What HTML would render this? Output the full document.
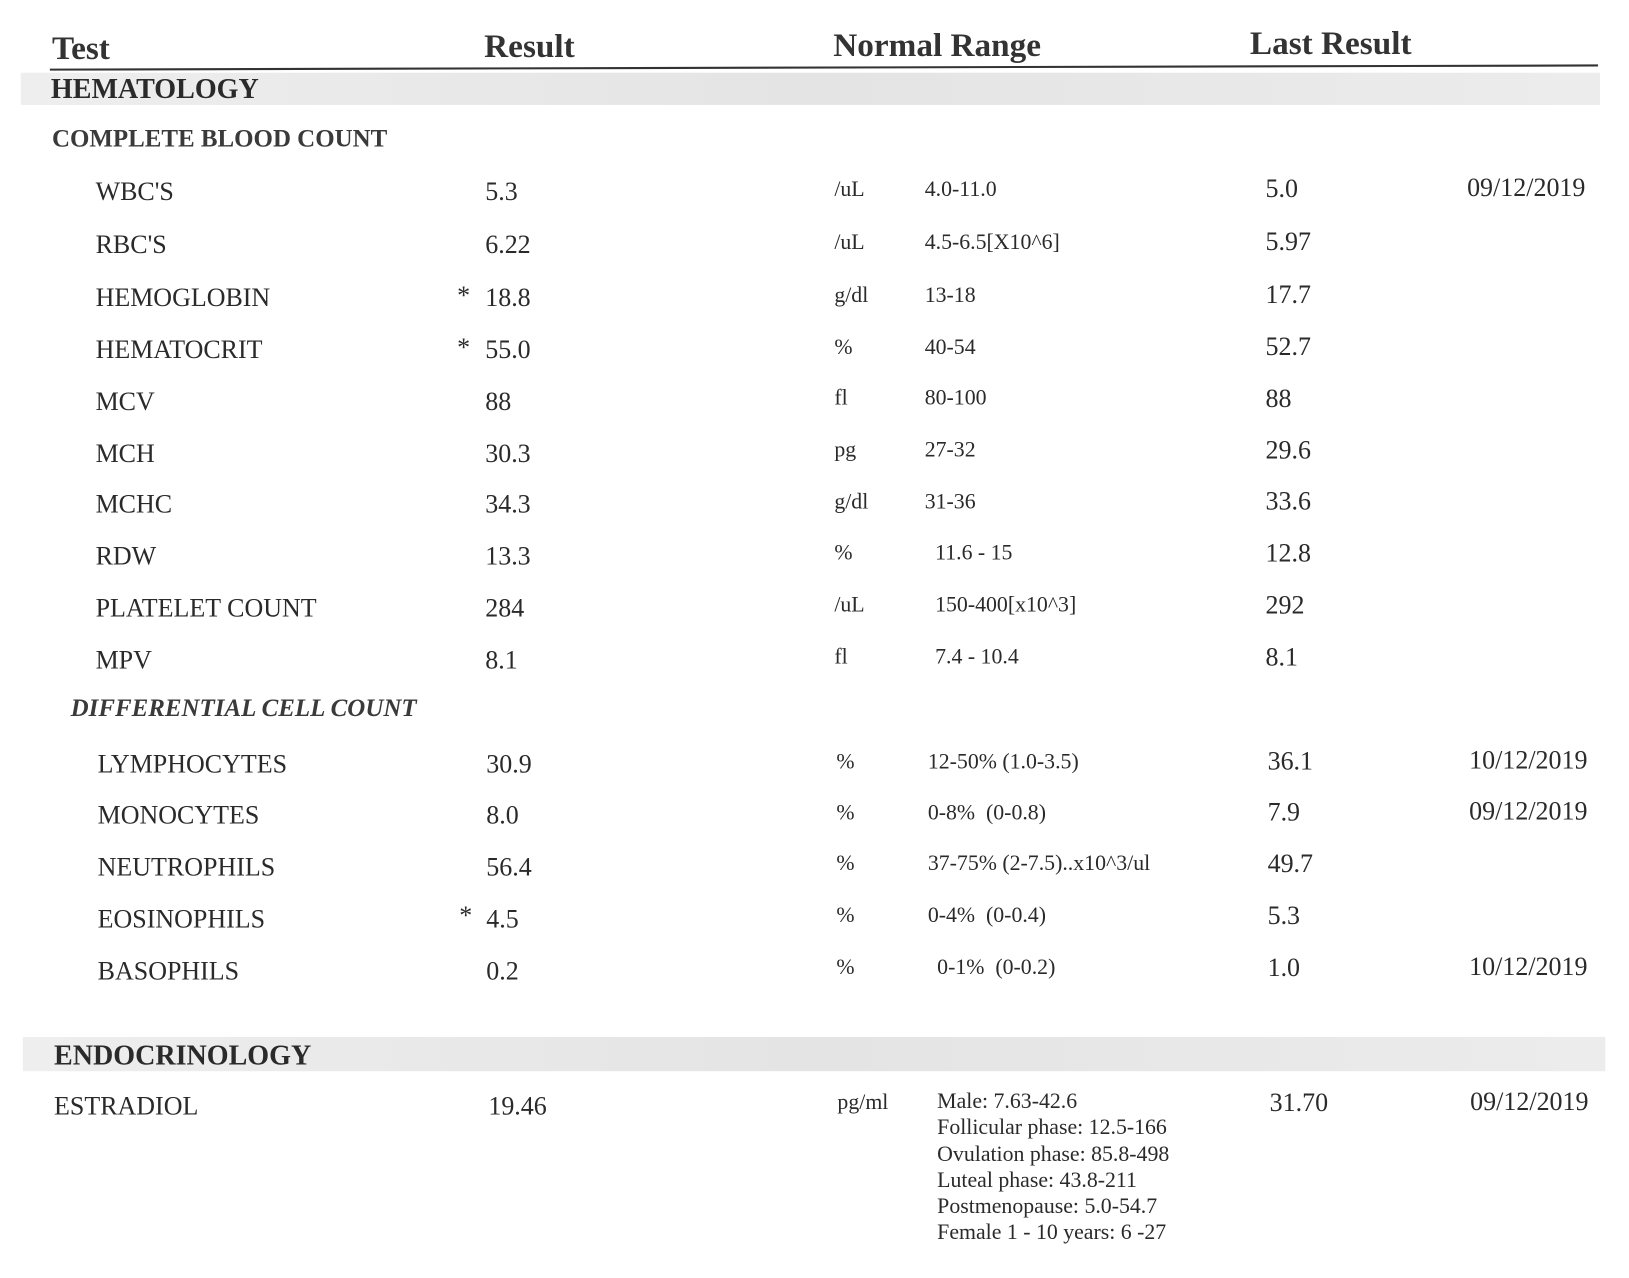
<!DOCTYPE html>
<html><head><meta charset="utf-8"><style>
html,body{margin:0;padding:0;background:#fff;width:1629px;height:1278px;overflow:hidden}
#c{position:absolute;left:0;top:0;width:1568px;height:1230px;transform:scale(1.039);transform-origin:0 0;font-family:"Liberation Serif",serif;color:#2a2a2a}
.t{position:absolute;white-space:nowrap;line-height:1;transform:translateY(-50%);transform-origin:0 50%}
.h{font-size:32px;font-weight:bold;color:#333}
.r{font-size:25px}
.s{font-size:21px}
.band{position:absolute;background:linear-gradient(90deg,#eee,#e4e4e4 50%,#ececec)}
</style></head><body><div id="c">
<div class="t h" style="left:50px;top:46px">Test</div>
<div class="t h" style="left:466px;top:44px">Result</div>
<div class="t h" style="left:802px;top:43px">Normal Range</div>
<div class="t h" style="left:1203px;top:41px">Last Result</div>
<svg style="position:absolute;left:0;top:0" width="1560" height="80"><line x1="48" y1="67" x2="1538" y2="63" stroke="#333" stroke-width="2"/></svg>
<div class="band" style="left:20px;top:70px;width:1520px;height:31px"></div>
<div class="t" style="left:49px;top:86px;font-size:27px;font-weight:bold">HEMATOLOGY</div>
<div class="t" style="left:50px;top:134px;font-size:24px;font-weight:bold;color:#3a3a3a">COMPLETE BLOOD COUNT</div>

<div class="t r" style="left:92px;top:185px">WBC'S</div><div class="t r" style="left:467px;top:185px">5.3</div><div class="t s" style="left:803px;top:182px">/uL</div><div class="t s" style="left:890px;top:182px">4.0-11.0</div><div class="t r" style="left:1218px;top:182px">5.0</div><div class="t r" style="left:1412px;top:181px">09/12/2019</div>
<div class="t r" style="left:92px;top:236px">RBC'S</div><div class="t r" style="left:467px;top:236px">6.22</div><div class="t s" style="left:803px;top:233px">/uL</div><div class="t s" style="left:890px;top:233px">4.5-6.5[X10^6]</div><div class="t r" style="left:1218px;top:233px">5.97</div>
<div class="t r" style="left:92px;top:287px">HEMOGLOBIN</div><div class="t r" style="left:440px;top:285px">*</div><div class="t r" style="left:467px;top:287px">18.8</div><div class="t s" style="left:803px;top:284px">g/dl</div><div class="t s" style="left:890px;top:284px">13-18</div><div class="t r" style="left:1218px;top:284px">17.7</div>
<div class="t r" style="left:92px;top:337px">HEMATOCRIT</div><div class="t r" style="left:440px;top:335px">*</div><div class="t r" style="left:467px;top:337px">55.0</div><div class="t s" style="left:803px;top:334px">%</div><div class="t s" style="left:890px;top:334px">40-54</div><div class="t r" style="left:1218px;top:334px">52.7</div>
<div class="t r" style="left:92px;top:387px">MCV</div><div class="t r" style="left:467px;top:387px">88</div><div class="t s" style="left:803px;top:383px">fl</div><div class="t s" style="left:890px;top:383px">80-100</div><div class="t r" style="left:1218px;top:384px">88</div>
<div class="t r" style="left:92px;top:437px">MCH</div><div class="t r" style="left:467px;top:437px">30.3</div><div class="t s" style="left:803px;top:433px">pg</div><div class="t s" style="left:890px;top:433px">27-32</div><div class="t r" style="left:1218px;top:434px">29.6</div>
<div class="t r" style="left:92px;top:486px">MCHC</div><div class="t r" style="left:467px;top:486px">34.3</div><div class="t s" style="left:803px;top:483px">g/dl</div><div class="t s" style="left:890px;top:483px">31-36</div><div class="t r" style="left:1218px;top:483px">33.6</div>
<div class="t r" style="left:92px;top:536px">RDW</div><div class="t r" style="left:467px;top:536px">13.3</div><div class="t s" style="left:803px;top:532px">%</div><div class="t s" style="left:900px;top:532px">11.6 - 15</div><div class="t r" style="left:1218px;top:533px">12.8</div>
<div class="t r" style="left:92px;top:586px">PLATELET COUNT</div><div class="t r" style="left:467px;top:586px">284</div><div class="t s" style="left:803px;top:582px">/uL</div><div class="t s" style="left:900px;top:582px">150-400[x10^3]</div><div class="t r" style="left:1218px;top:583px">292</div>
<div class="t r" style="left:92px;top:636px">MPV</div><div class="t r" style="left:467px;top:636px">8.1</div><div class="t s" style="left:803px;top:632px">fl</div><div class="t s" style="left:900px;top:632px">7.4 - 10.4</div><div class="t r" style="left:1218px;top:633px">8.1</div>

<div class="t" style="left:68px;top:682px;font-size:24px;font-weight:bold;font-style:italic;color:#3a3a3a">DIFFERENTIAL CELL COUNT</div>
<div class="t r" style="left:94px;top:736px">LYMPHOCYTES</div><div class="t r" style="left:468px;top:736px">30.9</div><div class="t s" style="left:805px;top:733px">%</div><div class="t s" style="left:893px;top:733px">12-50% (1.0-3.5)</div><div class="t r" style="left:1220px;top:733px">36.1</div><div class="t r" style="left:1414px;top:732px">10/12/2019</div>
<div class="t r" style="left:94px;top:785px">MONOCYTES</div><div class="t r" style="left:468px;top:785px">8.0</div><div class="t s" style="left:805px;top:782px">%</div><div class="t s" style="left:893px;top:782px">0-8%&nbsp; (0-0.8)</div><div class="t r" style="left:1220px;top:782px">7.9</div><div class="t r" style="left:1414px;top:781px">09/12/2019</div>
<div class="t r" style="left:94px;top:835px">NEUTROPHILS</div><div class="t r" style="left:468px;top:835px">56.4</div><div class="t s" style="left:805px;top:831px">%</div><div class="t s" style="left:893px;top:831px">37-75% (2-7.5)..x10^3/ul</div><div class="t r" style="left:1220px;top:832px">49.7</div>
<div class="t r" style="left:94px;top:885px">EOSINOPHILS</div><div class="t r" style="left:442px;top:882px">*</div><div class="t r" style="left:468px;top:885px">4.5</div><div class="t s" style="left:805px;top:881px">%</div><div class="t s" style="left:893px;top:881px">0-4%&nbsp; (0-0.4)</div><div class="t r" style="left:1220px;top:882px">5.3</div>
<div class="t r" style="left:94px;top:935px">BASOPHILS</div><div class="t r" style="left:468px;top:935px">0.2</div><div class="t s" style="left:805px;top:931px">%</div><div class="t s" style="left:902px;top:931px">0-1%&nbsp; (0-0.2)</div><div class="t r" style="left:1220px;top:932px">1.0</div><div class="t r" style="left:1414px;top:931px">10/12/2019</div>

<div class="band" style="left:22px;top:998px;width:1523px;height:33px"></div>
<div class="t" style="left:52px;top:1016px;font-size:27px;font-weight:bold">ENDOCRINOLOGY</div>
<div class="t r" style="left:52px;top:1065px">ESTRADIOL</div><div class="t r" style="left:470px;top:1065px">19.46</div><div class="t s" style="left:806px;top:1061px">pg/ml</div>
<div class="t s" style="left:902px;top:1060px">Male: 7.63-42.6</div>
<div class="t s" style="left:902px;top:1085px">Follicular phase: 12.5-166</div>
<div class="t s" style="left:902px;top:1111px">Ovulation phase: 85.8-498</div>
<div class="t s" style="left:902px;top:1136px">Luteal phase: 43.8-211</div>
<div class="t s" style="left:902px;top:1161px">Postmenopause: 5.0-54.7</div>
<div class="t s" style="left:902px;top:1186px">Female 1 - 10 years: 6 -27</div>
<div class="t r" style="left:1222px;top:1062px">31.70</div><div class="t r" style="left:1415px;top:1061px">09/12/2019</div>
</div></body></html>
